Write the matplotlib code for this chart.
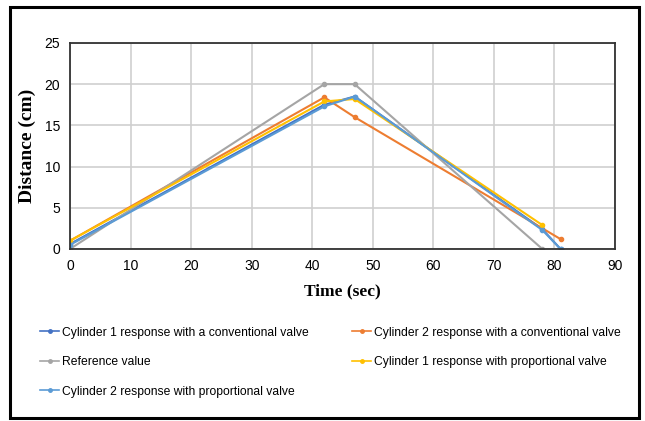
import matplotlib.pyplot as plt
from matplotlib.patches import Rectangle

# series
t_ref = [0, 42, 47, 78]
d_ref = [0, 20, 20, 0]

t_c1_conv = [0, 42, 47, 78, 81]
d_c1_conv = [0.6, 17.5, 18.5, 2.4, 0]

t_c2_conv = [0, 42, 47, 81]
d_c2_conv = [1.0, 18.4, 16.0, 1.2]

t_c1_prop = [0, 42, 47, 78]
d_c1_prop = [1.0, 17.9, 18.2, 2.9]

t_c2_prop = [0, 42, 47, 78, 81]
d_c2_prop = [0.5, 17.3, 18.5, 2.3, 0]

x_ticks = list(range(0, 91, 10))
y_ticks = list(range(0, 26, 5))

BLUE = "#4472C4"
ORANGE = "#ED7D31"
GRAY = "#A5A5A5"
YELLOW = "#FFC000"
LIGHT_BLUE = "#5B9BD5"

SANS = "Liberation Sans"
SERIF = "Liberation Serif"

fig = plt.figure(figsize=(6.45, 4.21), dpi=100)
ax = fig.add_axes([0.1085, 0.4086, 0.845, 0.4894])

kw = dict(lw=1.5, marker="o", ms=3)
l1, = ax.plot(t_c1_conv, d_c1_conv, color=BLUE, label="Cylinder 1 response with a conventional valve", **kw)
l2, = ax.plot(t_c2_conv, d_c2_conv, color=ORANGE, label="Cylinder 2 response with a conventional valve", **kw)
l3, = ax.plot(t_ref, d_ref, color=GRAY, label="Reference value", **kw)
l4, = ax.plot(t_c1_prop, d_c1_prop, color=YELLOW, label="Cylinder 1 response with proportional valve", **kw)
l5, = ax.plot(t_c2_prop, d_c2_prop, color=LIGHT_BLUE, label="Cylinder 2 response with proportional valve", **kw)

ax.set_xlim(0, 90)
ax.set_ylim(0, 25)
ax.set_xticks(x_ticks)
ax.set_yticks(y_ticks)
ax.grid(True, color="#CFCFCF", lw=1.2)
ax.set_axisbelow(True)
for s in ax.spines.values():
    s.set_color("#333333")
    s.set_linewidth(1.3)
ax.tick_params(length=0, pad=7, labelsize=10)
for lab in ax.get_xticklabels() + ax.get_yticklabels():
    lab.set_family(SANS)

ax.set_ylabel("Distance (cm)", family=SERIF, weight="bold", fontsize=14, labelpad=6)
ax.set_xlabel("Time (sec)", family=SERIF, weight="bold", fontsize=12.5, labelpad=8)

# matplotlib fills legend columns first, so order handles to get row-major layout
leg = fig.legend(handles=[l1, l3, l5, l2, l4], loc="upper left", bbox_to_anchor=(0.045, 0.25),
                 ncol=2, frameon=False, handlelength=1.6, handletextpad=0.2,
                 columnspacing=3.6, labelspacing=1.45,
                 prop={"family": SANS, "size": 8.7})
for h in leg.legend_handles:
    h.set_linewidth(1.2)
    h.set_markersize(2.5)

# outer black frame
fig.patches.append(Rectangle((0.016, 0.008), 0.975, 0.975, transform=fig.transFigure,
                             fill=False, edgecolor="black", lw=2.2))

fig.savefig("out.png", dpi=100)
